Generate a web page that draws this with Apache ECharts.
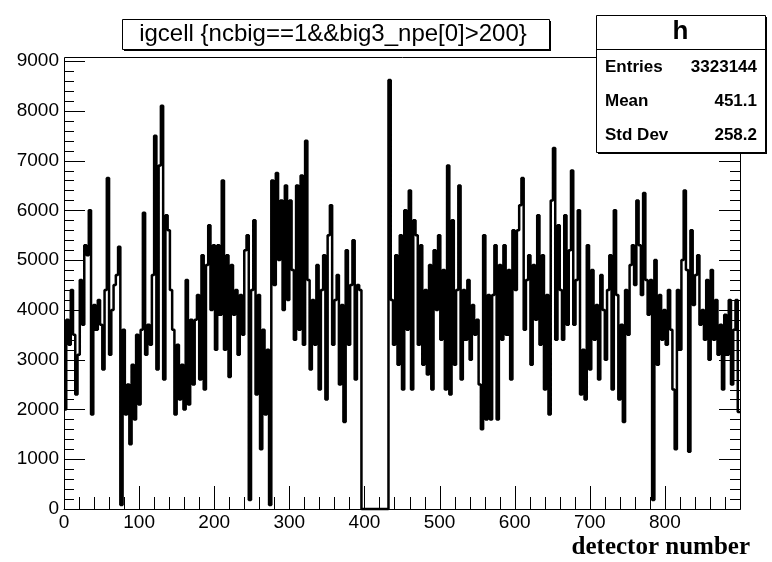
<!DOCTYPE html>
<html><head><meta charset="utf-8">
<script src="https://cdn.jsdelivr.net/npm/echarts@6/dist/echarts.min.js"></script>
<style>html,body{margin:0;padding:0;background:#fff}#c{width:772px;height:562px}</style>
</head><body><div id="c"></div>
<script>
// ---- data ----
const binWidth = 3;           // detector numbers per bin
const counts = [
  2000, 3800, 3300, 4400, 3500, 2300, 3100, 4600, 3700, 5300,
  5100, 6000, 1900, 4100, 3600, 4200, 3700, 2800, 4400, 6650,
  3100, 4000, 4500, 4700, 5270,   80, 3600, 1900, 2500, 1300,
  2900, 1800, 3500, 2100, 3600, 5950, 3100, 3700, 3300, 4700,
  7500, 2800, 6900, 8100, 2600, 5900, 5600, 4400, 3600, 1900,
  3300, 2200, 2900, 2000, 4600, 2100, 3800, 2500, 3800, 4300,
  2600, 5100, 2400, 4900, 5700, 4000, 5300, 3200, 5300, 3900,
  6600, 3200, 5100, 2650, 4900, 3900, 4400, 3100, 4300, 3500,
  5200, 5500,  180, 4400, 5800, 2300, 4300, 1200, 3600, 1900,
  3200,   80, 6600, 4500, 6750, 5000, 6200, 4000, 6500, 4200,
  6200, 4800, 3400, 6500, 3600, 6700, 3300, 7400, 4600, 2800,
  4200, 3300, 4900, 2400, 4400, 5100, 2200, 5500, 6100, 3300,
  4200, 4700, 2500, 4100, 1750, 5200, 3300, 4500, 5400, 2600,
  4500, 4400,    0,    0,    0,    0,    0,    0,    0,    0,
     0,    0,    0,    0, 8620, 4200, 3300, 5100, 2900, 5500,
  2400, 6000, 3600, 6400, 2400, 5800, 5500, 3300, 5300, 2900,
  4400, 2700, 4900, 2400, 5200, 4000, 5500, 3400, 4800, 2400,
  6900, 2300, 5800, 2900, 4400, 6500, 2600, 4400, 3400, 4600,
  3000, 4100, 3500, 3800, 2500, 1600, 5500, 1800, 4300, 1800,
  4300, 5300, 1800, 4900, 3400, 5300, 3500, 4800, 2600, 5600,
  4400, 5600, 6100, 6650, 3600, 4600, 5100, 2900, 4900, 3800,
  5900, 3300, 5100, 2400, 4300, 1900, 6200, 7250, 3400, 5700,
  4400, 3400, 5900, 3700, 5200, 6800, 3700, 4600, 6000, 2300,
  3200, 2200, 5300, 2800, 4800, 3400, 4100, 2600, 4700, 4000,
  3000, 4400, 5100, 2400, 6000, 4300, 2200, 3700, 1750, 4400,
  3500, 4900, 5300, 4500, 6200, 5300, 4300, 6350, 4600, 3900,
  4600,  180, 5000, 2900, 4300, 3400, 4000, 3300, 4400, 3600,
  2400, 1200, 4400, 3200, 5000, 6400, 4800, 1150, 5600, 4100,
  4700, 5100, 3700, 4000, 3400, 4600, 3000, 4800, 3400, 4200,
  3100, 3700, 2400, 3900, 3100, 4200, 2500, 3600, 4200, 1950
];
const xMin = 0, xMax = 900, xStep = 100, xMinorStep = 20;
const yMin = 0, yMax = 9000, yStep = 1000, yMinorStep = 200;
const titleText = 'igcell {ncbig==1&&big3_npe[0]>200}';
const xTitle = 'detector number';
const statsName = 'h';
const statsLabels = ['Entries', 'Mean', 'Std Dev'];
const statsValues = ['3323144', '451.1', '258.2'];

// ---- chart ----
const FONT = 'Liberation Sans, Arial, Helvetica, sans-serif';
const stepData = counts.map((v, i) => [i * binWidth, v]);
stepData.push([counts.length * binWidth, counts[counts.length - 1]]);

// tick marks (ROOT style: inside, on bottom, left and right), placed through the axes' scales
const tickItems = [];   // [side, value, isMajor]  side: 0 bottom, 1 left, 2 right
for (let v = xMin; v <= xMax; v += xMinorStep) tickItems.push([0, v, v % xStep === 0 ? 1 : 0]);
for (let v = yMin; v <= yMax; v += yMinorStep) {
  const m = v % yStep === 0 ? 1 : 0;
  tickItems.push([1, v, m]);
  tickItems.push([2, v, m]);
}
const TICK_LEN = {x: [12, 23], y: [10, 21]};
function renderTick(params, api) {
  const side = api.value(0), v = api.value(1), major = api.value(2);
  let x1, y1, x2, y2;
  if (side === 0) {
    const p = api.coord([v, yMin]);
    x1 = x2 = Math.round(p[0]) + 0.5; y1 = p[1]; y2 = p[1] - TICK_LEN.x[major];
  } else {
    const p = api.coord([side === 1 ? xMin : xMax, v]);
    y1 = y2 = Math.round(p[1]) + 0.5; x1 = p[0];
    x2 = side === 1 ? p[0] + TICK_LEN.y[major] : p[0] - TICK_LEN.y[major];
  }
  return {type: 'line', shape: {x1, y1, x2, y2}, style: {stroke: '#000', lineWidth: 1}};
}

const statsX = 596, statsY = 15, statsW = 169, statsH = 137;
const rowsY = [67, 101, 135];
const graphics = [
  {type: 'rect', z: 50, shape: {x: 64.5, y: 57.5, width: 676, height: 452}, style: {fill: 'none', stroke: '#000', lineWidth: 1}},
  {type: 'rect', z: 100, shape: {x: 124, y: 21, width: 427, height: 30}, style: {fill: '#000'}},
  {type: 'rect', z: 101, shape: {x: 122.5, y: 19.5, width: 427, height: 30}, style: {fill: '#fff', stroke: '#000', lineWidth: 1}},
  {type: 'text', z: 102, x: 333, y: 34, style: {text: titleText, fontFamily: FONT, fontSize: 24, fill: '#000', align: 'center', verticalAlign: 'middle'}},
  {type: 'rect', z: 100, shape: {x: statsX + 2, y: statsY + 2, width: statsW, height: statsH}, style: {fill: '#000'}},
  {type: 'rect', z: 101, shape: {x: statsX + 0.5, y: statsY + 0.5, width: statsW, height: statsH}, style: {fill: '#fff', stroke: '#000', lineWidth: 1}},
  {type: 'rect', z: 102, shape: {x: statsX, y: 49, width: statsW, height: 1}, style: {fill: '#000'}},
  {type: 'text', z: 102, x: statsX + statsW / 2, y: 32, style: {text: statsName, fontFamily: FONT, fontWeight: 'bold', fontSize: 26, fill: '#000', align: 'center', verticalAlign: 'middle'}},
  {type: 'text', z: 102, x: 750, y: 548, style: {text: xTitle, fontFamily: 'Liberation Serif, Times New Roman, serif', fontWeight: 'bold', fontSize: 25, fill: '#000', align: 'right', verticalAlign: 'middle'}}
];
statsLabels.forEach((lab, i) => {
  graphics.push({type: 'text', z: 102, x: statsX + 9, y: rowsY[i], style: {text: lab, fontFamily: FONT, fontWeight: 'bold', fontSize: 17, fill: '#000', align: 'left', verticalAlign: 'middle'}});
  graphics.push({type: 'text', z: 102, x: statsX + statsW - 8, y: rowsY[i], style: {text: statsValues[i], fontFamily: FONT, fontWeight: 'bold', fontSize: 17, fill: '#000', align: 'right', verticalAlign: 'middle'}});
});

echarts.init(document.getElementById('c')).setOption({
  animation: false, backgroundColor: '#fff',
  grid: {left: 64, right: 32, top: 61, bottom: 53},
  xAxis: {
    type: 'value', min: xMin, max: xMax, interval: xStep,
    axisLine: {show: true, onZero: false, lineStyle: {color: '#000', width: 1}},
    axisTick: {show: false}, minorTick: {show: false}, splitLine: {show: false},
    axisLabel: {showMaxLabel: false, color: '#000', fontFamily: FONT, fontSize: 19, margin: 4, formatter: v => String(v)}
  },
  yAxis: {
    type: 'value', min: yMin, max: yMax, interval: yStep,
    axisLine: {show: true, onZero: false, lineStyle: {color: '#000', width: 1}},
    axisTick: {show: false}, minorTick: {show: false}, splitLine: {show: false},
    axisLabel: {color: '#000', fontFamily: FONT, fontSize: 19, margin: 5, formatter: v => String(v)}
  },
  series: [
    {type: 'line', step: 'end', symbol: 'none', data: stepData, z: 2,
      lineStyle: {color: '#000', width: 2.5}, clip: false},
    {type: 'custom', coordinateSystem: 'cartesian2d', data: tickItems, renderItem: renderTick,
      encode: {x: 1, y: 1}, silent: true, z: 3, clip: false}
  ],
  graphic: graphics
});
</script></body></html>
